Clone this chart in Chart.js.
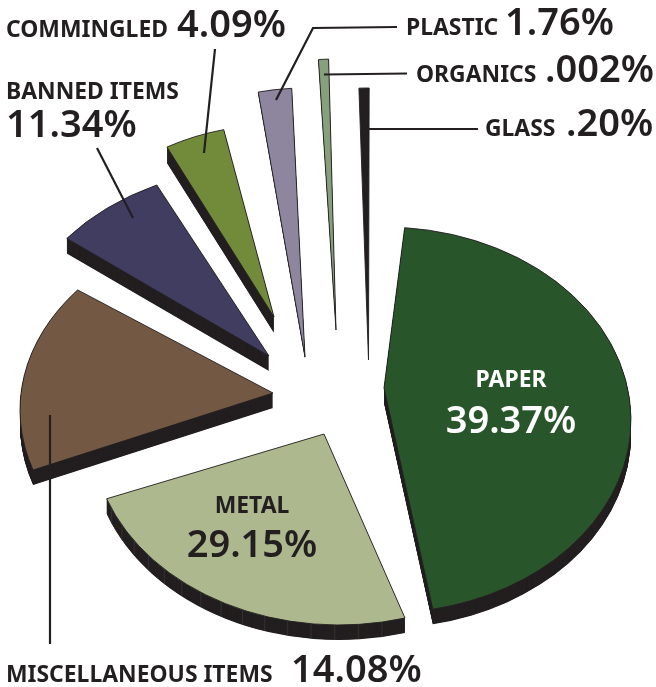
<!DOCTYPE html>
<html>
<head>
<meta charset="utf-8">
<style>
  html, body { margin: 0; padding: 0; background: #fff; }
  #wrap { width: 656px; height: 687px; }
</style>
<script src="https://cdn.jsdelivr.net/npm/chart.js@4/dist/chart.umd.min.js"></script>
</head>
<body>
<div id="wrap"><canvas id="pie" width="656" height="687"></canvas></div>
<script>
// Data, the printed figures and the slice widths as drawn (they differ in the original)
const categories = ["PAPER", "METAL", "MISCELLANEOUS ITEMS", "BANNED ITEMS", "COMMINGLED", "PLASTIC", "ORGANICS", "GLASS"];
const printedPercents = ["39.37%", "29.15%", "14.08%", "11.34%", "4.09%", "1.76%", ".002%", ".20%"];
const drawnShares = [45.5, 23.8, 16.1, 7.2, 4.2, 2.0, 0.6, 0.6];

// Slice styling
const colors = ["#29552b", "#adb88e", "#735943", "#403d61", "#718b3b", "#8e859f", "#87a07c", "#231f20"];
const INK = "#231f20";
const BASE_RADIUS = 100;
const START_ANGLE = 4.8;

// Each slice is pulled out of the pie by hand in the original, so each gets its own placement
const slideX = [56, 11, -55, -59, -54, -23, 8, 40.5];
const slideY = [76.5, 90.5, 66.5, 12.5, -26.5, 13.5, -13.5, 16.5];
const stretchX = [2.47, 2.47, 2.53, 2.575, 2.3, 2.69, 2.71, 2.72];
const stretchY = [1.93, 1.91, 1.89, 1.9, 1.92, 2.69, 2.71, 2.72];
const turn = [0, -4.1, -2.8, -4, -5.9, -3.3, -4.2, -4.66];
const hubX = [0, -15, 0, 0, 0, 0, 0, 0];
const hubY = [-32, 0, -17, 0, 0, 0, 0, 0];
const depth = [15, 15, 15, 15, 16, 1.5, 1, 0];
const rimSeamEvery = [0, 5.5, 0, 0, 0, 0, 0, 0];

function traceSlice(ctx, arc, i, dropY) {
  const cx = arc.x + slideX[i], cy = arc.y + slideY[i];
  ctx.beginPath();
  ctx.save();
  ctx.translate(cx, cy + dropY);
  ctx.scale(stretchX[i], stretchY[i]);
  ctx.rotate(turn[i] * Math.PI / 180);
  ctx.arc(0, 0, arc.outerRadius, arc.startAngle, arc.endAngle);
  ctx.restore();
  ctx.lineTo(cx + hubX[i], cy + hubY[i] + dropY);
  ctx.closePath();
}

// thin grey joints on the rim of the metal slice
function drawRimSeams(ctx, arc, i) {
  if (!rimSeamEvery[i]) return;
  const rot = turn[i] * Math.PI / 180;
  const step = rimSeamEvery[i] * Math.PI / 180;
  ctx.strokeStyle = "#4a4744";
  ctx.lineWidth = 0.5;
  for (let a = arc.startAngle + step; a < arc.endAngle; a += step) {
    const x = arc.x + slideX[i] + Math.cos(a + rot) * arc.outerRadius * stretchX[i];
    const y = arc.y + slideY[i] + Math.sin(a + rot) * arc.outerRadius * stretchY[i];
    ctx.beginPath();
    ctx.moveTo(x, y);
    ctx.lineTo(x, y + depth[i]);
    ctx.stroke();
  }
}

// Tilted, pulled apart slices with a solid rim underneath
const tiltedSlices = {
  id: "tiltedSlices",
  beforeDatasetDraw(chart) {
    const { ctx } = chart;
    chart.getDatasetMeta(0).data.forEach((arc, i) => {
      ctx.save();
      ctx.fillStyle = INK;
      for (let d = depth[i]; d > 0; d -= 0.5) {
        traceSlice(ctx, arc, i, d);
        ctx.fill();
      }
      drawRimSeams(ctx, arc, i);
      traceSlice(ctx, arc, i, 0);
      ctx.fillStyle = colors[i];
      ctx.fill();
      ctx.strokeStyle = INK;
      ctx.lineWidth = 0.9;
      ctx.stroke();
      ctx.restore();
    });
    return false;
  }
};

// Callout lines and captions
const leaderLines = [
  [[215, 49], [204, 153]],
  [[97, 148], [133, 218]],
  [[397, 27], [313, 28], [276, 100]],
  [[407, 73.5], [324, 74.5]],
  [[478, 129], [368, 129]],
  [[50, 415], [50, 644]]
];
const captions = [
  // category index, name x, name y, percent x, percent y, align, name colour
  [4, 6, 37, 177, 37, "left", INK],
  [3, 6, 99, 6, 137, "left", INK],
  [5, 406, 35, 505, 35, "left", INK],
  [6, 416, 82, 545, 82, "left", INK],
  [7, 485, 136, 566, 136, "left", INK],
  [2, 6, 682, 291, 682, "left", INK],
  [0, 511, 387, 511, 433, "center", "#ffffff"],
  [1, 252, 513, 252, 557, "center", INK]
];

const callouts = {
  id: "callouts",
  afterDatasetsDraw(chart) {
    const { ctx } = chart;
    ctx.save();
    ctx.strokeStyle = INK;
    ctx.lineWidth = 2.2;
    leaderLines.forEach(pts => {
      ctx.beginPath();
      pts.forEach((p, k) => k ? ctx.lineTo(p[0], p[1]) : ctx.moveTo(p[0], p[1]));
      ctx.stroke();
    });
    ctx.textBaseline = "alphabetic";
    captions.forEach(([idx, nx, ny, px, py, align, color]) => {
      ctx.textAlign = align;
      ctx.fillStyle = color;
      ctx.font = "700 22.9px 'Noto Sans'";
      ctx.fillText(categories[idx], nx, ny);
      ctx.font = "600 38px 'Noto Sans'";
      ctx.fillText(printedPercents[idx], px, py);
    });
    ctx.restore();
  }
};

new Chart(document.getElementById("pie").getContext("2d"), {
  type: "pie",
  data: { labels: categories, datasets: [{ data: drawnShares, backgroundColor: colors, borderWidth: 0 }] },
  options: {
    responsive: false,
    animation: false,
    rotation: START_ANGLE,
    radius: BASE_RADIUS,
    layout: { padding: 0 },
    plugins: { legend: { display: false }, tooltip: { enabled: false } }
  },
  plugins: [tiltedSlices, callouts]
});
</script>
</body>
</html>
